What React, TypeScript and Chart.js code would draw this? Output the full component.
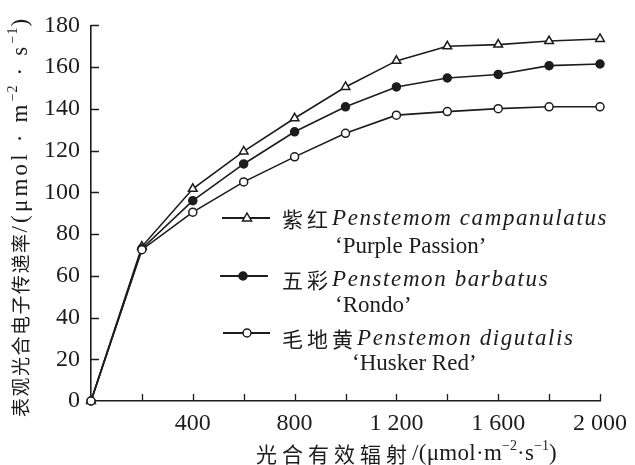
import React, { useEffect, useRef } from "react";
import { Chart, registerables } from "chart.js";

Chart.register(...registerables);

// ---- data ----
const par = [0, 200, 400, 600, 800, 1000, 1200, 1400, 1600, 1800, 2000];
const purplePassion = [0, 74, 101.7, 119.6, 135.5, 150.5, 163, 170, 170.8, 172.5, 173.5];
const rondo = [0, 73, 96, 113.6, 129, 141, 150.5, 154.8, 156.5, 160.7, 161.5];
const huskerRed = [0, 72.5, 90.5, 105, 117, 128.3, 137, 138.7, 140.1, 141, 141];
const xLabelValues = [400, 800, 1200, 1600, 2000];
const xLabelTexts = ["400", "800", "1 200", "1 600", "2 000"];

const legendCn = ["紫红", "五彩", "毛地黄"];
const legendLatin = ["Penstemom campanulatus", "Penstemon barbatus", "Penstemon digutalis"];
const legendCultivar = ["‘Purple Passion’", "‘Rondo’", "‘Husker Red’"];

const INK = "#1c1c1c";
const SERIF = "'Liberation Serif', 'Times New Roman', serif";
const CJK = "'Noto Sans CJK SC', sans-serif";

type Run = { t: string; font: string; dy?: number; ls?: number };

function drawRuns(ctx: CanvasRenderingContext2D, runs: Run[], x: number, y: number) {
  let cx = x;
  for (const r of runs) {
    ctx.font = r.font;
    (ctx as any).letterSpacing = (r.ls || 0) + "px";
    ctx.fillText(r.t, cx, y + (r.dy || 0));
    cx += ctx.measureText(r.t).width;
  }
  (ctx as any).letterSpacing = "0px";
  return cx;
}

const decorPlugin = {
  id: "decor",
  afterDraw(chart: any) {
    const ctx: CanvasRenderingContext2D = chart.ctx;
    const xs = chart.scales.x;
    const ys = chart.scales.y;
    const area = chart.chartArea;
    ctx.save();
    // inward tick marks
    ctx.strokeStyle = INK;
    ctx.lineWidth = 1.3;
    ctx.beginPath();
    for (const t of xs.ticks) {
      if (t.value === 0) continue;
      const px = Math.round(xs.getPixelForValue(t.value)) + 0.5;
      ctx.moveTo(px, area.bottom);
      ctx.lineTo(px, area.bottom - 7);
    }
    for (const t of ys.ticks) {
      if (t.value === 0) continue;
      const py = Math.round(ys.getPixelForValue(t.value)) + 0.5;
      ctx.moveTo(area.left, py);
      ctx.lineTo(area.left + 8, py);
    }
    ctx.stroke();

    ctx.fillStyle = INK;
    ctx.textBaseline = "middle";
    ctx.textAlign = "left";

    // x axis title
    drawRuns(
      ctx,
      [
        { t: "光合有效辐射", font: `21px ${CJK}`, ls: 5 },
        { t: "/(μmol·m", font: `23px ${SERIF}`, ls: 0.3 },
        { t: "−2", font: `14px ${SERIF}`, dy: -8 },
        { t: "·s", font: `23px ${SERIF}`, ls: 0.3 },
        { t: "−1", font: `14px ${SERIF}`, dy: -8 },
        { t: ")", font: `23px ${SERIF}` },
      ],
      256,
      454
    );

    // y axis title
    ctx.save();
    ctx.translate(21, 417);
    ctx.rotate(-Math.PI / 2);
    drawRuns(
      ctx,
      [
        { t: "表观光合电子传递率", font: `19px ${CJK}`, ls: 1.5 },
        { t: "/(μmol · m", font: `23px ${SERIF}`, ls: 3.2 },
        { t: "−2", font: `14px ${SERIF}`, dy: -8, ls: 1 },
        { t: " · s", font: `23px ${SERIF}`, ls: 3.2 },
        { t: "−1", font: `14px ${SERIF}`, dy: -8, ls: 1 },
        { t: ")", font: `23px ${SERIF}` },
      ],
      0,
      0
    );
    ctx.restore();

    // legend
    const rows = [
      { ly: 218, lx0: 222, lx1: 270, mx: 247, ty: 219, t2y: 247, t2x: 335, style: "tri" },
      { ly: 276, lx0: 220, lx1: 268, mx: 243, ty: 280, t2y: 306, t2x: 335, style: "dot" },
      { ly: 333, lx0: 223, lx1: 270, mx: 247, ty: 339, t2y: 364, t2x: 352, style: "open" },
    ];
    rows.forEach((r, i) => {
      ctx.strokeStyle = INK;
      ctx.lineWidth = 2;
      ctx.beginPath();
      ctx.moveTo(r.lx0, r.ly);
      ctx.lineTo(r.lx1, r.ly);
      ctx.stroke();
      ctx.lineWidth = 1.5;
      if (r.style === "tri") {
        ctx.beginPath();
        ctx.moveTo(r.mx, r.ly - 5);
        ctx.lineTo(r.mx + 4.5, r.ly + 3);
        ctx.lineTo(r.mx - 4.5, r.ly + 3);
        ctx.closePath();
        ctx.fillStyle = "#fff";
        ctx.fill();
        ctx.stroke();
      } else {
        ctx.beginPath();
        ctx.arc(r.mx, r.ly, 4, 0, Math.PI * 2);
        ctx.fillStyle = r.style === "dot" ? INK : "#fff";
        ctx.fill();
        ctx.stroke();
      }
      ctx.fillStyle = INK;
      drawRuns(
        ctx,
        [
          { t: legendCn[i], font: `21px ${CJK}`, ls: 4 },
          { t: legendLatin[i], font: `italic 23px ${SERIF}`, ls: 1.6 },
        ],
        282,
        r.ty
      );
      drawRuns(ctx, [{ t: legendCultivar[i], font: `23px ${SERIF}`, ls: 0 }], r.t2x, r.t2y);
    });
    ctx.restore();
  },
};

function ds(label: string, data: number[], style: string, fill: string, order: number, radius: number) {
  return {
    label,
    data: par.map((x, i) => ({ x, y: data[i] })),
    borderColor: INK,
    borderWidth: 1.6,
    pointStyle: style,
    pointRadius: radius,
    pointBackgroundColor: fill,
    pointBorderColor: INK,
    pointBorderWidth: 1.5,
    tension: 0,
    clip: false as any,
    order,
  };
}

export default function App() {
  const ref = useRef<HTMLCanvasElement | null>(null);
  useEffect(() => {
    if (!ref.current) return;
    const chart = new Chart(ref.current, {
      type: "line",
      data: {
        datasets: [
          ds("紫红 Penstemom campanulatus ‘Purple Passion’", purplePassion, "triangle", "#fff", 2, 5),
          ds("五彩 Penstemon barbatus ‘Rondo’", rondo, "circle", INK, 1, 4),
          ds("毛地黄 Penstemon digutalis ‘Husker Red’", huskerRed, "circle", "#fff", 0, 4),
        ],
      },
      options: {
        animation: false,
        responsive: false,
        layout: { padding: { left: 0, right: 31, top: 21, bottom: 0 } },
        plugins: { legend: { display: false }, tooltip: { enabled: false } },
        scales: {
          x: {
            type: "linear",
            min: 0,
            max: 2000,
            afterFit: (s: any) => {
              s.height = 64;
            },
            ticks: {
              stepSize: 200,
              autoSkip: false,
              maxRotation: 0,
              padding: 8,
              color: INK,
              font: { family: SERIF, size: 24 },
              callback: (v: any) => {
                const k = xLabelValues.indexOf(Number(v));
                return k >= 0 ? xLabelTexts[k] : "";
              },
            },
            grid: { display: true, drawOnChartArea: false, drawTicks: false },
            border: { display: true, color: INK, width: 1.6 },
          },
          y: {
            type: "linear",
            min: 0,
            max: 180,
            afterFit: (s: any) => {
              s.width = 91;
            },
            ticks: {
              stepSize: 20,
              padding: 11,
              color: INK,
              font: { family: SERIF, size: 24 },
            },
            grid: { display: true, drawOnChartArea: false, drawTicks: false },
            border: { display: true, color: INK, width: 1.6 },
          },
        },
      },
      plugins: [decorPlugin],
    });
    return () => chart.destroy();
  }, []);
  return (
    <div style={{ position: "absolute", left: 0, top: 0, width: 635, height: 465, background: "#fff" }}>
      <canvas ref={ref} width={635} height={465} />
    </div>
  );
}
